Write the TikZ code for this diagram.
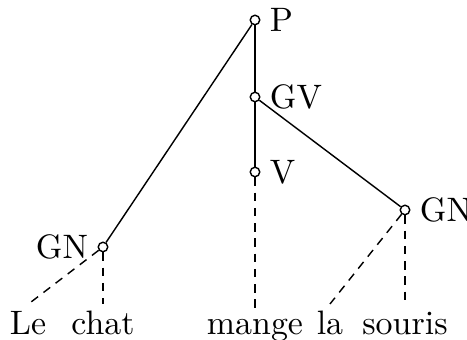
\documentclass[tikz,border=0pt]{standalone}
\begin{document}
\begin{tikzpicture}[x=0.295pt,y=-0.295pt,line width=0.42pt,
  dot/.style={circle,draw,fill=white,inner sep=0pt,minimum size=2.8pt},
  lab/.style={inner sep=2.6pt},
  word/.style={anchor=base,inner sep=2pt},
  leaf/.style={dashed,dash pattern=on 2.5pt off 2pt}]
\useasboundingbox (0,0) rectangle (467,340);
\node[dot] (p) at (255,20) {};
\node[dot] (gv) at (255,97) {};
\node[dot] (v) at (255,172) {};
\node[dot] (gnr) at (405,210) {};
\node[dot] (gnl) at (103,247) {};
\node[lab,anchor=west] (lp) at (p.east) {P};
\node[lab,anchor=west] (lgv) at (gv.east) {GV};
\node[lab,anchor=west] (lv) at (v.east) {V};
\node[lab,anchor=west] (lgnr) at (gnr.east) {GN};
\node[lab,anchor=east] (lgnl) at (gnl.west) {GN};
\node[word] (le) at (28,335) {Le};
\node[word] (chat) at (103,335) {chat};
\node[word] (mange) at (255,335) {mange};
\node[word] (la) at (330,335) {la};
\node[word] (souris) at (405,335) {souris};
\draw (p) -- (gv);
\draw (gv) -- (v);
\draw (p) -- (gnl);
\draw (gv) -- (gnr);
\draw[leaf] (gnl) -- (le.north);
\draw[leaf] (gnl) -- (gnl |- chat.north);
\draw[leaf] (v) -- (v |- mange.north);
\draw[leaf] (gnr) -- (la.north);
\draw[leaf] (gnr) -- (gnr |- souris.north);
\end{tikzpicture}
\end{document}
